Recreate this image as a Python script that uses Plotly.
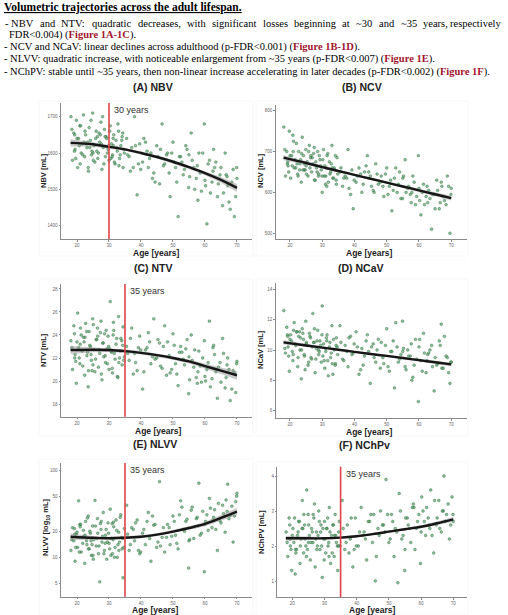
import plotly.graph_objects as go

W, H = 508, 615

# ---------------- data ----------------
age = [
    18.1, 18.6, 19.0, 19.4, 19.8, 20.2, 20.5, 20.9, 21.3, 21.6,
    22.0, 22.4, 22.7, 23.1, 23.5, 23.8, 24.2, 24.5, 24.9, 25.3,
    25.6, 26.0, 26.4, 26.7, 27.1, 27.5, 27.8, 28.2, 28.6, 28.9,
    29.3, 29.7, 30.0, 30.4, 30.8, 31.1, 31.5, 31.9, 32.2, 32.6,
    33.0, 33.3, 33.7, 34.1, 34.4, 34.8, 22.2, 24.7, 27.3, 30.6,
    35.5, 36.3, 37.1, 38.0, 38.8, 39.6, 40.5, 41.4, 42.3, 43.1,
    44.0, 44.9, 45.8, 46.6, 47.4, 37.6, 41.9, 45.3,
    48.3, 49.1, 50.0, 50.8, 51.6, 52.4, 53.2, 54.0, 54.9, 55.7,
    56.5, 57.3, 58.1, 58.9, 59.8, 60.6, 61.4, 62.2, 63.0, 63.9,
    64.7, 65.5, 66.3, 67.1, 67.9, 68.8, 69.6, 70.0, 52.8, 57.8,
    62.7, 66.9,
    18.4, 19.2, 19.6, 20.0, 20.7, 21.1, 21.8, 22.5, 23.3, 23.6,
    24.0, 24.4, 25.1, 25.8, 26.2, 26.9, 27.6, 28.0, 28.4, 29.1,
    29.5, 29.9, 30.2, 31.0, 31.3, 31.7, 32.4, 32.8, 33.5, 34.0,
    34.6, 19.3, 21.0, 23.0, 25.0, 26.5, 28.8, 31.4, 33.1, 34.3,
    35.8, 36.7, 38.3, 39.2, 40.9, 42.7, 43.6, 46.1, 47.0, 48.0, 39.9, 44.4,
    48.8, 49.6, 50.4, 51.2, 52.0, 53.6, 54.4, 55.2, 56.0, 56.8,
    57.6, 58.5, 59.3, 60.0, 61.0, 61.7, 62.5, 63.4, 64.2, 65.0,
    65.8, 66.6, 67.5, 68.4, 69.2, 69.9, 55.0, 60.2,
]

nbv = [
    1700, 1580, 1655, 1610, 1690, 1560, 1640, 1675, 1600, 1625,
    1705, 1590, 1650, 1615, 1560, 1670, 1635, 1595, 1710, 1620,
    1575, 1660, 1645, 1600, 1630, 1685, 1555, 1615, 1665, 1590,
    1640, 1610, 1580, 1675, 1625, 1595, 1650, 1570, 1635, 1605,
    1660, 1585, 1620, 1645, 1560, 1600, 1630, 1605, 1650, 1585,
    1640, 1590, 1615, 1700, 1485, 1625, 1575, 1630, 1560, 1600,
    1545, 1620, 1515, 1680, 1570, 1560, 1605, 1590,
    1600, 1480, 1630, 1560, 1425, 1590, 1540, 1620, 1505, 1655,
    1560, 1530, 1600, 1495, 1680, 1405, 1580, 1520, 1560, 1480,
    1540, 1455, 1600, 1510, 1445, 1555, 1480, 1530, 1575, 1470,
    1610, 1535,
    1665, 1605, 1585, 1640, 1620, 1675, 1595, 1660, 1630, 1550,
    1615, 1690, 1580, 1640, 1605, 1655, 1625, 1700, 1570, 1645,
    1600, 1620, 1660, 1590, 1640, 1575, 1615, 1680, 1595, 1635,
    1610, 1650, 1570, 1625, 1600, 1585, 1645, 1620, 1565, 1655,
    1595, 1550, 1620, 1570, 1640, 1585, 1530, 1610, 1565, 1595, 1555, 1520,
    1545, 1600, 1575, 1520, 1590, 1555, 1610, 1535, 1580, 1500,
    1565, 1545, 1600, 1525, 1570, 1490, 1550, 1575, 1515, 1560,
    1490, 1540, 1465, 1520, 1425, 1560, 1595, 1510,
]

ncv = [
    760, 640, 700, 665, 750, 635, 690, 740, 660, 680,
    720, 645, 700, 670, 625, 735, 690, 655, 705, 675,
    640, 715, 685, 650, 670, 710, 630, 660, 700, 645,
    680, 655, 600, 705, 665, 640, 690, 625, 675, 650,
    715, 635, 660, 690, 620, 645, 670, 655, 695, 640,
    650, 615, 640, 705, 595, 560, 625, 660, 600, 650,
    690, 640, 605, 670, 620, 635, 645, 615,
    640, 590, 660, 615, 555, 635, 600, 650, 585, 680,
    610, 595, 640, 570, 690, 545, 620, 590, 605, 510,
    595, 630, 560, 615, 580, 640, 500, 610, 660, 600,
    575, 625,
    705, 670, 650, 690, 665, 725, 660, 640, 680, 695,
    655, 670, 645, 700, 660, 685, 630, 675, 650, 690,
    665, 640, 680, 620, 660, 695, 645, 670, 635, 655,
    685, 675, 700, 655, 665, 690, 640, 615, 660, 630,
    660, 635, 610, 655, 640, 620, 665, 600, 645, 625, 630, 650,
    615, 645, 595, 630, 605, 620, 585, 640, 600, 615,
    575, 625, 590, 610, 600, 570, 615, 585, 595, 560,
    605, 575, 590, 570, 615, 595, 635, 580,
]

ntv = [
    23.5, 21.0, 24.8, 22.3, 19.8, 25.9, 22.9, 21.5, 24.0, 22.6,
    23.8, 20.5, 25.0, 22.2, 19.5, 24.3, 23.0, 21.8, 25.4, 22.7,
    20.8, 23.6, 24.6, 21.2, 22.4, 25.2, 20.1, 23.3, 24.1, 21.6,
    22.8, 23.9, 21.0, 26.9, 22.5, 20.7, 24.4, 21.9, 23.2, 20.4,
    25.6, 22.0, 23.7, 21.4, 24.7, 22.1, 23.4, 20.9, 24.2, 22.6,
    23.0, 21.8, 24.6, 22.4, 20.9, 23.9, 19.3, 22.7, 24.2, 21.5,
    25.4, 22.0, 23.3, 21.1, 24.8, 20.6, 22.9, 23.6,
    23.4, 20.7, 24.1, 21.5, 19.6, 23.0, 21.9, 22.8, 18.9, 24.0,
    21.2, 20.3, 22.6, 19.9, 23.5, 21.0, 25.2, 20.2, 22.3, 18.5,
    21.6, 23.7, 19.4, 22.0, 18.3, 20.9, 19.0, 21.7, 22.5, 20.8,
    23.1, 21.4,
    22.9, 24.1, 21.7, 23.4, 22.0, 24.6, 21.3, 23.8, 22.5, 20.9,
    23.1, 22.3, 24.9, 21.9, 23.6, 22.7, 20.6, 23.3, 22.1, 24.4,
    21.5, 23.0, 22.8, 21.1, 24.0, 22.4, 23.7, 20.3, 22.6, 23.5,
    21.8, 22.0, 23.2, 24.3, 21.4, 23.9, 22.2, 25.1, 21.6, 23.1,
    22.4, 23.7, 21.6, 22.9, 20.8, 23.4, 22.1, 21.3, 23.0, 20.5, 22.7, 21.9,
    22.2, 21.0, 23.1, 20.6, 22.5, 21.4, 23.6, 20.1, 21.8, 22.7,
    19.8, 21.3, 22.0, 20.4, 21.6, 19.5, 22.9, 20.8, 21.2, 19.9,
    22.4, 20.3, 21.0, 19.3, 20.7, 21.5, 22.1, 20.0,
]

ncav = [
    12.6, 9.8, 11.5, 10.2, 8.6, 11.0, 10.6, 9.3, 11.8, 10.4,
    11.2, 8.9, 10.9, 10.0, 8.1, 11.4, 10.7, 9.6, 11.9, 10.3,
    9.0, 11.1, 10.8, 9.4, 12.4, 10.5, 8.5, 10.1, 11.3, 9.7,
    10.6, 9.2, 12.9, 10.4, 8.8, 9.9, 11.0, 8.3, 10.2, 9.5,
    11.6, 8.4, 10.0, 9.1, 10.8, 9.7, 11.2, 8.7, 10.5, 9.3,
    11.6, 9.4, 10.3, 8.9, 10.9, 9.8, 11.2, 8.4, 10.1, 9.6,
    11.0, 7.8, 10.4, 9.2, 10.7, 9.9, 8.7, 10.2,
    10.5, 9.1, 11.4, 8.6, 9.9, 7.5, 10.2, 9.4, 11.9, 8.9,
    10.0, 9.6, 8.2, 10.7, 6.6, 9.3, 11.1, 8.5, 9.8, 10.3,
    7.3, 9.0, 10.6, 8.8, 10.9, 9.5, 7.8, 9.2, 11.8, 8.0,
    9.7, 11.7,
    10.1, 11.0, 9.6, 10.7, 9.9, 11.3, 10.3, 9.5, 10.8, 10.0,
    11.1, 9.7, 10.5, 9.2, 10.9, 10.2, 11.4, 9.4, 10.6, 9.9,
    10.3, 11.0, 9.6, 10.1, 10.8, 9.3, 10.5, 9.8, 10.7, 9.0,
    10.2, 10.9, 9.7, 11.2, 10.4, 9.5, 10.0, 10.6, 9.1, 10.3,
    10.5, 9.3, 10.8, 9.7, 10.2, 9.0, 10.6, 9.5, 10.0, 8.8, 10.4, 9.9,
    9.5, 10.3, 8.9, 9.9, 10.6, 9.2, 9.7, 10.1, 8.7, 9.6,
    10.4, 9.0, 9.4, 10.2, 8.6, 9.8, 9.3, 10.0, 8.9, 9.5,
    9.1, 10.3, 8.8, 9.6, 8.5, 9.2, 9.9, 10.7,
]

nlvv = [
    12.0, 22.0, 15.5, 9.0, 18.5, 13.0, 45.0, 24.0, 11.5, 17.0,
    20.5, 8.5, 26.0, 14.0, 30.0, 12.5, 19.0, 10.5, 23.0, 16.0,
    45.5, 13.5, 28.0, 11.0, 5.2, 21.0, 15.0, 33.0, 12.0, 18.0,
    9.5, 25.0, 14.5, 36.0, 16.5, 11.0, 22.5, 13.0, 27.0, 10.0,
    19.5, 15.0, 31.0, 12.5, 5.8, 21.5, 17.5, 14.0, 24.5, 10.5,
    40.0, 12.0, 22.0, 15.5, 27.0, 11.0, 19.0, 14.0, 33.0, 9.0,
    23.5, 13.0, 75.0, 17.0, 11.5, 21.0, 26.0, 15.0,
    24.0, 14.0, 30.0, 18.0, 12.5, 45.0, 21.0, 26.0, 7.5, 35.0,
    16.5, 28.0, 72.0, 19.0, 6.8, 31.0, 48.0, 22.0, 35.5, 12.0,
    26.5, 40.0, 19.5, 70.0, 30.5, 15.0, 44.0, 55.0, 38.0, 23.0,
    29.0, 34.0,
    16.0, 21.5, 13.0, 19.5, 11.5, 24.0, 14.5, 18.0, 28.5, 12.5,
    20.0, 15.5, 9.5, 23.0, 16.5, 13.5, 26.0, 17.5, 11.0, 21.0,
    15.0, 19.0, 12.5, 24.5, 16.0, 10.0, 20.5, 14.0, 29.0, 17.0,
    13.0, 18.5, 22.5, 15.5, 10.5, 19.0, 14.5, 25.5, 12.0, 16.5,
    18.5, 14.0, 25.0, 12.0, 21.0, 16.5, 30.0, 13.5, 22.0, 17.0, 11.5, 24.0,
    22.0, 17.5, 26.0, 14.5, 31.0, 20.0, 27.5, 16.0, 38.0, 22.5,
    29.0, 18.0, 34.0, 24.0, 20.5, 37.0, 27.0, 21.0, 42.0, 25.0,
    32.0, 46.0, 28.0, 39.0, 30.0, 51.0, 15.5, 26.0,
]

nchpv = [
    2.4, 1.7, 2.8, 2.0, 1.3, 2.5, 2.1, 1.2, 1.9, 2.3,
    2.7, 1.5, 2.2, 3.3, 1.8, 2.6, 2.0, 3.6, 2.9, 2.3,
    1.6, 2.5, 2.1, 2.8, 1.4, 2.4, 2.0, 3.0, 1.9, 2.6,
    1.1, 2.2, 2.7, 1.8, 2.5, 2.0, 3.1, 1.5, 2.3, 2.6,
    1.7, 2.9, 2.1, 1.3, 2.4, 2.0, 2.7, 1.9, 2.2, 2.5,
    3.3, 1.9, 2.6, 2.2, 1.4, 2.8, 2.0, 3.1, 2.4, 1.6,
    2.7, 2.1, 1.0, 2.5, 3.0, 1.8, 2.3, 2.9,
    2.6, 3.9, 2.1, 2.9, 1.7, 2.4, 3.5, 2.2, 1.3, 2.8,
    2.5, 3.1, 1.9, 2.7, 1.5, 3.0, 2.3, 2.8, 3.6, 1.8,
    2.6, 3.3, 2.4, 4.0, 2.9, 2.2, 3.4, 2.7, 0.95, 3.1,
    2.5, 3.0,
    2.1, 2.6, 1.9, 2.3, 2.8, 1.8, 2.4, 2.0, 2.5, 2.9,
    2.2, 1.7, 2.6, 2.1, 2.4, 3.2, 1.9, 2.3, 2.7, 2.0,
    2.5, 1.6, 2.2, 2.8, 2.1, 2.4, 1.8, 2.6, 2.3, 2.0,
    2.7, 2.2, 1.9, 2.5, 2.1, 2.9, 2.4, 1.7, 2.3, 2.0,
    2.5, 2.1, 2.8, 1.9, 2.4, 2.2, 2.7, 1.7, 2.3, 2.6, 2.0, 2.9,
    2.4, 2.9, 2.2, 2.7, 2.5, 3.0, 2.3, 2.8, 2.6, 2.1,
    3.2, 2.5, 2.9, 2.4, 2.7, 3.1, 2.6, 2.3, 3.3, 2.8,
    2.5, 3.0, 2.7, 3.2, 2.6, 2.9, 1.9, 3.4,
]

fit_age = [18, 25, 30, 35, 40, 45, 50, 55, 60, 65, 70]
nbv_fit = [1628, 1624, 1617, 1610, 1600, 1589, 1576, 1561, 1545, 1526, 1504]
nbv_ci = [10, 6, 5, 4, 4, 4, 5, 5, 6, 8, 11]
ncv_fit = [685, 672, 662, 652.5, 643, 633.5, 624, 614.5, 605, 595.5, 586]
ncv_ci = [6, 4, 3, 3, 3, 3, 3, 3, 4, 5, 6]
ntv_fit = [22.7, 22.72, 22.7, 22.6, 22.45, 22.25, 22.0, 21.7, 21.3, 20.9, 20.5]
ntv_ci = [0.35, 0.22, 0.17, 0.15, 0.15, 0.15, 0.16, 0.18, 0.22, 0.28, 0.38]
ncav_fit = [10.5, 10.30, 10.16, 10.02, 9.88, 9.74, 9.61, 9.47, 9.33, 9.19, 9.05]
ncav_ci = [0.14, 0.09, 0.07, 0.06, 0.06, 0.06, 0.06, 0.07, 0.08, 0.1, 0.13]
nlvv_fit = [17.3, 16.8, 16.6, 16.8, 17.3, 18.3, 19.8, 21.8, 24.3, 28.5, 33.7]
nlvv_ci = [0.09, 0.05, 0.04, 0.04, 0.04, 0.04, 0.045, 0.05, 0.06, 0.08, 0.1]
nchpv_fit = [2.22, 2.22, 2.22, 2.24, 2.28, 2.34, 2.41, 2.48, 2.55, 2.65, 2.76]
nchpv_ci = [0.07, 0.04, 0.035, 0.03, 0.03, 0.03, 0.03, 0.035, 0.04, 0.05, 0.07]

x_ticks = [20, 30, 40, 50, 60, 70]

panels = [
    dict(name="(A) NBV", ylab="NBV [mL]", y=nbv, fit=nbv_fit, ci=nbv_ci, log=False,
         yticks=[1400, 1500, 1600, 1700], vline=30, vlab="30 years"),
    dict(name="(B) NCV", ylab="NCV [mL]", y=ncv, fit=ncv_fit, ci=ncv_ci, log=False,
         yticks=[500, 600, 700, 800], vline=None, vlab=None),
    dict(name="(C) NTV", ylab="NTV [mL]", y=ntv, fit=ntv_fit, ci=ntv_ci, log=False,
         yticks=[18, 20, 22, 24, 26, 28], vline=35, vlab="35 years"),
    dict(name="(D) NCaV", ylab="NCaV [mL]", y=ncav, fit=ncav_fit, ci=ncav_ci, log=False,
         yticks=[6, 8, 10, 12, 14], vline=None, vlab=None),
    dict(name="(E) NLVV", ylab="NLVV [log<sub>10</sub> mL]", y=nlvv, fit=nlvv_fit, ci=nlvv_ci, log=True,
         yticks=[5, 10, 20, 50, 100], vline=35, vlab="35 years"),
    dict(name="(F) NChPv", ylab="NChPV [mL]", y=nchpv, fit=nchpv_fit, ci=nchpv_ci, log=False,
         yticks=[1, 2, 3, 4], vline=35, vlab="35 years"),
]

# ---------------- layout geometry (pixels) ----------------
geo = [
    dict(dx=(61, 252), dy=(103, 239), xr=[15, 74.7], yr=[1363.4, 1737.7],
         title=(153, 87), xlab=(156, 252.5), ylab=(43, 171), frame=(39, 101, 253, 256)),
    dict(dx=(275.7, 466.7), dy=(105, 239), xr=[15.57, 74.8], yr=[486, 814],
         title=(362, 87), xlab=(369, 252.5), ylab=(260, 171), frame=(256, 101, 468, 256)),
    dict(dx=(61, 252), dy=(284, 416.7), xr=[15, 74.7], yr=[16.9, 28.43],
         title=(153, 268), xlab=(158, 430.5), ylab=(43, 350), frame=(39, 279, 253, 436)),
    dict(dx=(275.7, 466.7), dy=(283, 418), xr=[15.57, 74.8], yr=[5.52, 14.415],
         title=(361, 268), xlab=(369, 431.5), ylab=(260, 350), frame=(256, 279, 468, 436)),
    dict(dx=(61, 252), dy=(463, 596.7), xr=[15, 74.7], yr=[0.544, 2.091],
         title=(155, 444), xlab=(155, 609.5), ylab=(46, 528), frame=(39, 459, 253, 615)),
    dict(dx=(277.3, 467.3), dy=(466.7, 597), xr=[15.34, 74.35], yr=[0.543, 4.266],
         title=(364, 445), xlab=(372, 610), ylab=(261, 532), frame=(256, 462, 468, 615)),
]


def pxx(x):
    return x / W


def pyy(y):
    return 1 - y / H


fig = go.Figure()
shapes = []
annotations = []

axis_col = "#8a8a8a"
tick_font = dict(family="Liberation Sans", size=4.5, color="#666666")

for i, (p, g) in enumerate(zip(panels, geo)):
    n = i + 1
    xa = "x" if n == 1 else f"x{n}"
    ya = "y" if n == 1 else f"y{n}"

    if p["log"]:
        upper = [f * (1 + c) for f, c in zip(p["fit"], p["ci"])]
        lower = [f / (1 + c) for f, c in zip(p["fit"], p["ci"])]
    else:
        upper = [f + c for f, c in zip(p["fit"], p["ci"])]
        lower = [f - c for f, c in zip(p["fit"], p["ci"])]

    # points
    fig.add_trace(go.Scatter(
        x=age, y=p["y"], mode="markers", xaxis=xa, yaxis=ya, showlegend=False,
        marker=dict(size=2.8, color="rgba(70,165,95,0.65)",
                    line=dict(width=0.6, color="rgba(50,85,60,0.6)")),
        hoverinfo="skip"))
    # ribbon
    fig.add_trace(go.Scatter(
        x=fit_age + fit_age[::-1], y=upper + lower[::-1], mode="lines",
        fill="toself", fillcolor="rgba(150,150,150,0.5)", line=dict(width=0),
        xaxis=xa, yaxis=ya, showlegend=False, hoverinfo="skip"))
    # fit line
    fig.add_trace(go.Scatter(
        x=fit_age, y=p["fit"], mode="lines", line=dict(color="#161616", width=2.4, shape="spline"),
        xaxis=xa, yaxis=ya, showlegend=False, hoverinfo="skip"))

    xkey = "xaxis" if n == 1 else f"xaxis{n}"
    ykey = "yaxis" if n == 1 else f"yaxis{n}"
    fig.update_layout(**{
        xkey: dict(domain=[pxx(g["dx"][0]), pxx(g["dx"][1])], range=g["xr"], anchor=ya,
                   tickvals=x_ticks, ticks="outside", ticklen=1.5, tickcolor=axis_col,
                   showline=True, linecolor=axis_col, linewidth=1, showgrid=False,
                   zeroline=False, tickfont=tick_font),
        ykey: dict(domain=[pyy(g["dy"][1]), pyy(g["dy"][0])], range=g["yr"], anchor=xa,
                   type="log" if p["log"] else "linear",
                   tickvals=p["yticks"], ticktext=[str(t) for t in p["yticks"]],
                   ticks="outside", ticklen=1.5, tickcolor=axis_col,
                   showline=True, linecolor=axis_col, linewidth=1, showgrid=False,
                   zeroline=False, tickfont=tick_font),
    })

    # faint outer frame
    fx0, fy0, fx1, fy1 = g["frame"]
    shapes.append(dict(type="rect", xref="paper", yref="paper",
                       x0=pxx(fx0), x1=pxx(fx1), y0=pyy(fy1), y1=pyy(fy0),
                       line=dict(color="#f7f7f7", width=1), layer="below"))

    # vertical reference line
    if p["vline"] is not None:
        shapes.append(dict(type="line", xref=xa, yref=f"{ya} domain",
                           x0=p["vline"], x1=p["vline"], y0=0, y1=1,
                           line=dict(color="#e2434b", width=1.6)))
        annotations.append(dict(xref=xa, yref=f"{ya} domain", x=p["vline"] + 1.0, y=1.0,
                                xanchor="left", yanchor="top", showarrow=False,
                                text=p["vlab"],
                                font=dict(family="Liberation Sans", size=9, color="#333333")))

    # panel title
    annotations.append(dict(xref="paper", yref="paper", x=pxx(g["title"][0]), y=pyy(g["title"][1]),
                            xanchor="center", yanchor="middle", showarrow=False,
                            text=f"<b>{p['name']}</b>",
                            font=dict(family="Liberation Sans", size=10.5, color="#222222")))
    # x label
    annotations.append(dict(xref="paper", yref="paper", x=pxx(g["xlab"][0]), y=pyy(g["xlab"][1]),
                            xanchor="center", yanchor="middle", showarrow=False,
                            text="<b>Age [years]</b>",
                            font=dict(family="Liberation Sans", size=8.5, color="#222222")))
    # y label
    annotations.append(dict(xref="paper", yref="paper", x=pxx(g["ylab"][0]), y=pyy(g["ylab"][1]),
                            xanchor="center", yanchor="middle", showarrow=False, textangle=-90,
                            text=f"<b>{p['ylab']}</b>",
                            font=dict(family="Liberation Sans", size=7.5, color="#222222")))

# ---------------- header text ----------------
serif = "Liberation Serif"
red = "#a3162e"


def fig_ref(s):
    return f"<span style='color:{red}'><b>{s}</b></span>"


annotations.append(dict(xref="paper", yref="paper", x=pxx(2), y=pyy(7.5), xanchor="left",
                        yanchor="middle", showarrow=False,
                        text="<b><u>Volumetric trajectories across the adult lifespan.</u></b>",
                        font=dict(family=serif, size=11.5, color="black")))

line1_words = ["- NBV", "and", "NTV:", "quadratic", "decreases,", "with", "significant", "losses",
               "beginning", "at", "~30", "and", "~35", "years,", "respectively"]
line1_x = [3, 37.6, 59.1, 90.0, 135.5, 184.7, 209.8, 260.5, 292, 340.4, 354.4, 377, 398.5, 421.1, 503]
for k, (wd, xx) in enumerate(zip(line1_words, line1_x)):
    last = k == len(line1_words) - 1
    annotations.append(dict(xref="paper", yref="paper", x=pxx(xx), y=pyy(23.3),
                            xanchor="right" if last else "left", yanchor="middle",
                            showarrow=False, text=wd,
                            font=dict(family=serif, size=10.5, color="black")))

other_lines = [
    (7, 34.5, "FDR&lt;0.004) (" + fig_ref("Figure 1A-1C") + ")."),
    (2, 46.7, "- NCV and NCaV: linear declines across adulthood (p-FDR&lt;0.001) ("
     + fig_ref("Figure 1B-1D") + ")."),
    (2, 59.2, "- NLVV: quadratic increase, with noticeable enlargement from ~35 years (p-FDR&lt;0.007) ("
     + fig_ref("Figure 1E") + ")."),
    (2, 71.6, "- NChPV: stable until ~35 years, then non-linear increase accelerating in later decades "
     "(p-FDR&lt;0.002) (" + fig_ref("Figure 1F") + ")."),
]
for xx, yy, txt in other_lines:
    annotations.append(dict(xref="paper", yref="paper", x=pxx(xx), y=pyy(yy), xanchor="left",
                            yanchor="middle", showarrow=False, text=txt,
                            font=dict(family=serif, size=10.5, color="black")))

fig.update_layout(
    width=W, height=H, margin=dict(l=0, r=0, t=0, b=0),
    paper_bgcolor="white", plot_bgcolor="white",
    shapes=shapes, annotations=annotations, showlegend=False,
)

fig.write_html("out.html", config={"displayModeBar": False},
               post_script="document.body.style.margin='0px';")
